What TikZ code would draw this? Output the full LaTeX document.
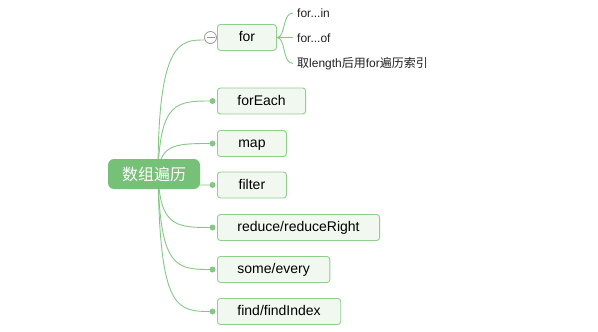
\documentclass[tikz,border=0pt]{standalone}
\usepackage{fontspec}
\setmainfont{Liberation Sans}
\newfontfamily\cjk{Noto Sans CJK SC}
\usetikzlibrary{calc}
\definecolor{linegreen}{HTML}{86C786}
\definecolor{boxborder}{HTML}{8ECF8B}
\definecolor{boxfill}{HTML}{F1F8EF}
\definecolor{rootfill}{HTML}{77C078}
\definecolor{subtext}{HTML}{222222}
\tikzset{
  conn/.style={draw=linegreen, line width=0.9pt},
  topicbox/.style={draw=boxborder, fill=boxfill, line width=0.9pt, rounded corners=3pt,
    anchor=west, minimum height=26pt, inner xsep=20pt, inner ysep=0pt,
    text height=10.5pt, text depth=2.5pt,
    font=\fontsize{14}{16}\selectfont, text=black},
  rootbox/.style={fill=rootfill, rounded corners=6pt, minimum width=92pt, minimum height=30pt,
    inner sep=0pt, font=\cjk\fontsize{16}{18}\selectfont, text=white},
  dotn/.style={circle, fill=linegreen, inner sep=0pt, minimum size=6pt},
  subtopic/.style={anchor=west, inner sep=0pt, font=\fontsize{12}{14}\selectfont, text=subtext},
}
\begin{document}
\begin{tikzpicture}[x=1pt, y=-1pt]
\useasboundingbox (0,0) rectangle (598,332);
\fill[white] (0,0) rectangle (598,332);
% topic boxes
\node[topicbox, minimum width=59pt] (t1) at (217,37.5) {for};
\node[topicbox] (t2) at (217,101) {forEach};
\node[topicbox, minimum width=69pt] (t3) at (217,143.5) {map};
\node[topicbox, minimum width=69pt] (t4) at (217,185) {filter};
\node[topicbox] (t5) at (217,227.5) {reduce/reduceRight};
\node[topicbox] (t6) at (217,269.5) {some/every};
\node[topicbox] (t7) at (217,311.5) {find/findIndex};
% dots
\node[dotn] (d2) at (212.5,101) {};
\node[dotn] (d3) at (212.5,143.5) {};
\node[dotn] (d4) at (212.5,185) {};
\node[dotn] (d5) at (212.5,227.5) {};
\node[dotn] (d6) at (212.5,269.5) {};
\node[dotn] (d7) at (212.5,311.5) {};
% root position helper
\coordinate (rs) at (158,174);
% connectors
\coordinate (c1in) at (204.5,40);
\draw[conn] (rs) .. controls ($(rs |- c1in)$) and ($(c1in)+(-24,0)$) .. (c1in);
\foreach \d in {d2,d3,d4,d5,d6,d7}{
  \draw[conn] (rs) .. controls ($(rs |- \d)+(2,0)$) and ($(\d.center)+(-36,0)$) .. (\d.center);
}
% collapse circle
\node[circle, draw=gray!80, fill=white, line width=0.8pt, minimum size=12pt, inner sep=0pt] (c1) at (210.5,37.5) {};
\draw[gray!80, line width=0.8pt] ($(c1.center)+(-4,0)$) -- ($(c1.center)+(4,0)$);
% root
\node[rootbox] (root) at (154,174) {数组遍历};
% subtopics
\node[subtopic] (s1) at (297,13) {for...in};
\node[subtopic] (s2) at (297,38.5) {for...of};
\node[subtopic] (s3) at (297,63.5) {\cjk 取\fontspec{Liberation Sans}length\cjk 后用\fontspec{Liberation Sans}for\cjk 遍历索引};
\draw[conn] (t1.east) .. controls ($(t1.east)+(9,0)$) and ($(s1.west)+(-15,0)$) .. ($(s1.west)+(-4,0)$);
\draw[conn] (t1.east) -- ($(s2.west |- t1.east)+(-4,0)$);
\draw[conn] (t1.east) .. controls ($(t1.east)+(9,0)$) and ($(s3.west)+(-15,0)$) .. ($(s3.west)+(-4,0)$);
\end{tikzpicture}
\end{document}
